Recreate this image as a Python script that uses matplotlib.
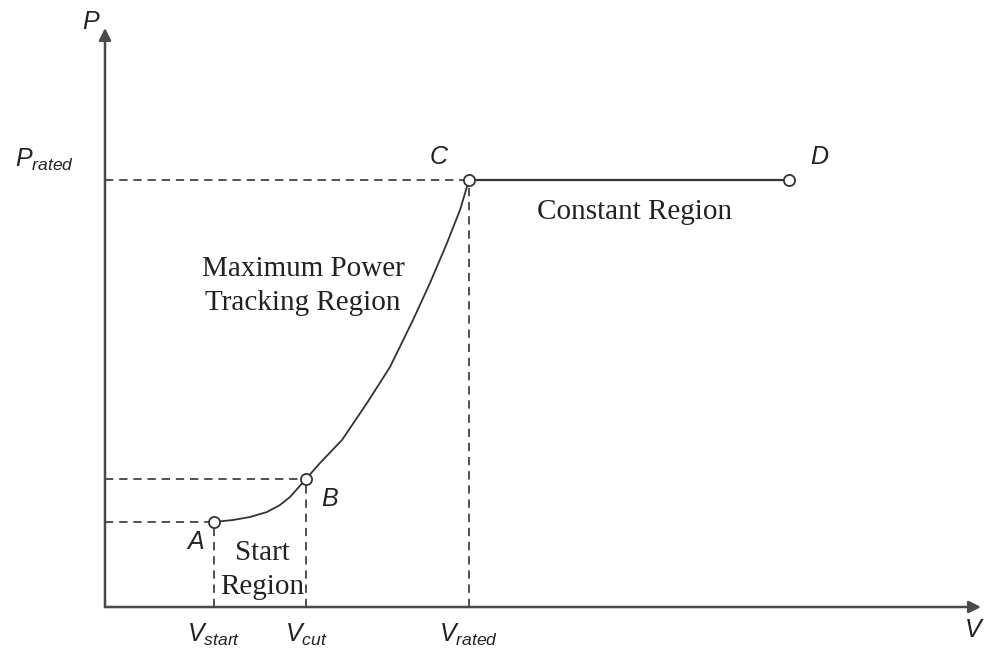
import matplotlib.pyplot as plt

plt.rcParams['mathtext.fontset'] = 'custom'
plt.rcParams['mathtext.it'] = 'Liberation Sans:italic'
plt.rcParams['mathtext.rm'] = 'Liberation Sans'

# wind speed / power points (arbitrary units)
v_start, v_cut, v_rated, v_max = 1.09, 2.01, 3.64, 6.84
p_start, p_cut, p_rated = 0.85, 1.28, 4.27

# maximum power tracking curve A -> B -> C
v_curve = [1.09, 1.28, 1.45, 1.62, 1.75, 1.85, 2.01, 2.15, 2.37, 2.62,
           2.85, 3.08, 3.25, 3.42, 3.55, 3.64]
p_curve = [0.85, 0.87, 0.90, 0.95, 1.02, 1.10, 1.28, 1.44, 1.67, 2.04,
           2.40, 2.87, 3.24, 3.64, 3.97, 4.27]

point_names = ['A', 'B', 'C', 'D']
point_v = [v_start, v_cut, v_rated, v_max]
point_p = [p_start, p_cut, p_rated, p_rated]

tick_labels = [r'$V_{start}$', r'$V_{cut}$', r'$V_{rated}$']
tick_pos = [v_start, v_cut, v_rated]

fig = plt.figure(figsize=(9.86, 6.54), dpi=100)
ax = fig.add_axes([0, 0, 1, 1])
ax.set_xlim(-1.05, 8.81)
ax.set_ylim(-0.47, 6.07)
ax.axis('off')

line_col = '#333333'
text_col = '#222222'

# axes arrows
arrow = dict(arrowstyle='-|>', color='#4a4a4a', lw=1.8, mutation_scale=18,
             shrinkA=0, shrinkB=0)
ax.annotate('', xy=(0, 5.79), xytext=(0, 0), arrowprops=arrow)
ax.annotate('', xy=(8.76, 0), xytext=(0, 0), arrowprops=arrow)

# dashed guide lines
dash = dict(color=line_col, lw=1.2, ls=(0, (5, 3.5)))
for v, p in zip([v_start, v_cut, v_rated], [p_start, p_cut, p_rated]):
    ax.plot([0, v], [p, p], **dash)
    ax.plot([v, v], [0, p], **dash)

# power curve
ax.plot(v_curve, p_curve, color=line_col, lw=1.3)
ax.plot([v_rated, v_max], [p_rated, p_rated], color=line_col, lw=1.6)
ax.plot(point_v, point_p, 'o', ms=8, mfc='white', mec=line_col, mew=1.3)

# point letters
offsets = [(-0.18, -0.2), (0.24, -0.2), (-0.3, 0.23), (0.3, 0.23)]
for name, v, p, (dx, dy) in zip(point_names, point_v, point_p, offsets):
    ax.text(v + dx, p + dy, name, fontsize=18, style='italic',
            family='Liberation Sans', color=text_col, ha='center', va='center')

# axis labels
ax.text(-0.14, 5.85, r'$P$', fontsize=18, color=text_col, ha='center', va='center')
ax.text(-0.6, 4.47, r'$P_{rated}$', fontsize=18, color=text_col, ha='center', va='center')
for lab, v in zip(tick_labels, tick_pos):
    ax.text(v, -0.28, lab, fontsize=18, color=text_col, ha='center', va='center')
ax.text(8.69, -0.23, r'$V$', fontsize=18, color=text_col, ha='center', va='center')

# region labels
serif = dict(family='Liberation Serif', fontsize=21, color=text_col,
             ha='center', va='center', linespacing=1.35)
ax.text(1.98, 3.21, 'Maximum Power\nTracking Region', **serif)
ax.text(5.30, 3.95, 'Constant Region', **serif)
ax.text(1.57, 0.37, 'Start\nRegion', **serif)

fig.savefig('out.png', dpi=100)
